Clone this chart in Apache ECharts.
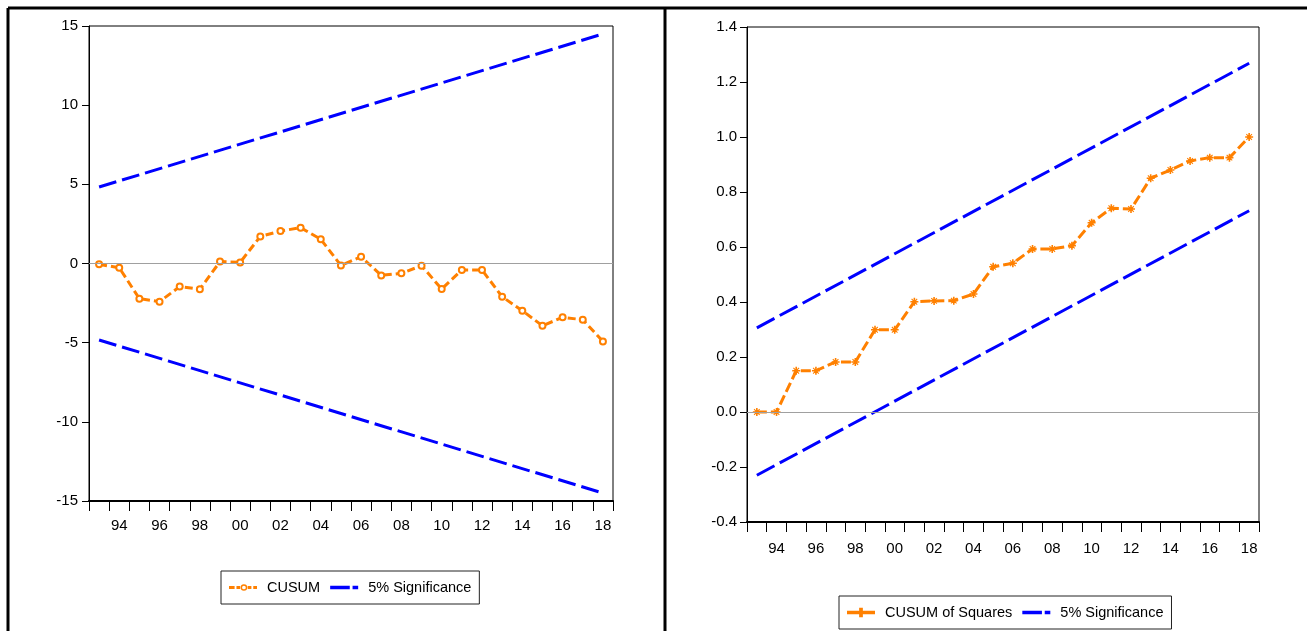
<!DOCTYPE html>
<html>
<head>
<meta charset="utf-8">
<script src="https://cdn.jsdelivr.net/npm/echarts@6/dist/echarts.min.js"></script>
<style>
html,body{margin:0;padding:0;background:#fff;}
#chart{width:1307px;height:631px;}
</style>
</head>
<body>
<div id="chart"></div>
<script>
// ---- data ----
const years = ['1993','1994','1995','1996','1997','1998','1999','2000','2001','2002','2003','2004','2005',
               '2006','2007','2008','2009','2010','2011','2012','2013','2014','2015','2016','2017','2018'];
const cusum = [-0.05,-0.27,-2.22,-2.41,-1.46,-1.63,0.12,0.07,1.71,2.05,2.26,1.53,-0.12,
               0.43,-0.75,-0.62,-0.14,-1.61,-0.41,-0.41,-2.10,-2.98,-3.93,-3.40,-3.55,-4.92];
const cusumUpperEnds = [4.83, 14.5];
const cusumLowerEnds = [-4.83, -14.5];
const cusumSq = [0,0,0.150,0.150,0.182,0.182,0.299,0.299,0.401,0.404,0.405,0.429,0.528,
                 0.541,0.593,0.593,0.605,0.688,0.741,0.738,0.850,0.880,0.913,0.925,0.925,1.0];
const sqUpperEnds = [0.306, 1.268];
const sqLowerEnds = [-0.230, 0.732];
const leftYTicks = {min: -15, max: 15, interval: 5};
const rightYTicks = {min: -0.4, max: 1.4, interval: 0.2};

// ---- styling ----
const FONT = '"Liberation Sans", Arial, sans-serif';
const ORANGE = '#FF8000';
const BLUE = '#0000FF';
const starPath = 'path://M4,0L6,0L6,4L10,4L10,6L6,6L6,10L4,10L4,6L0,6L0,4L4,4Z M1,2L2,1L5,4L8,1L9,2L6,5L9,8L8,9L5,6L2,9L1,8L4,5Z';
const iconCusum = 'path://M0,2H6V5H0Z M8,2H12V5H8Z M20,2H24V5H20Z M26,2H30V5H26Z M12.5,3.5A3.5,3.5 0 1,0 19.5,3.5A3.5,3.5 0 1,0 12.5,3.5Z M14,3.5A2,2 0 1,1 18,3.5A2,2 0 1,1 14,3.5Z';
const iconBand = 'path://M0,0H21V4H0Z M24,0H30V4H24Z';
const iconSq = 'path://M0,3H30V7H0Z M13,0H17V10H13Z';

const ends = (arr) => [[years[0], arr[0]], [years[years.length-1], arr[1]]];

function xAxisCfg(gridIndex, margin) {
  return {
    type: 'category', gridIndex, data: years, boundaryGap: true,
    axisLine: {show: true, onZero: false, lineStyle: {color: '#000', width: 2}},
    axisTick: {show: true, interval: 0, length: 10, inside: false, lineStyle: {color: '#000', width: 1}},
    axisLabel: {
      interval: (i, v) => parseInt(v) % 2 === 0,
      formatter: (v) => v.slice(2),
      color: '#000', fontFamily: FONT, fontSize: 15, margin
    },
    splitLine: {show: false}
  };
}
function yAxisCfg(gridIndex, ticks, margin, digits) {
  return {
    type: 'value', gridIndex, min: ticks.min, max: ticks.max, interval: ticks.interval,
    axisLine: {show: true, lineStyle: {color: '#000', width: 1}},
    axisTick: {show: true, length: 7, lineStyle: {color: '#000'}},
    axisLabel: {
      color: '#000', fontFamily: FONT, fontSize: 15, margin,
      formatter: (v) => digits ? v.toFixed(digits) : String(Math.round(v))
    },
    splitLine: {show: false}
  };
}
const zeroLine = {
  silent: true, symbol: 'none', label: {show: false},
  lineStyle: {color: '#a0a0a0', width: 1, type: 'solid'},
  data: [{yAxis: 0}]
};
function boundSeries(xi, data, dash) {
  return {
    name: '5% Significance', type: 'line', xAxisIndex: xi, yAxisIndex: xi,
    data, symbol: 'none', showSymbol: false,
    lineStyle: {color: BLUE, width: 3, type: dash},
    itemStyle: {color: BLUE}, z: 3
  };
}
function legendCfg(left, top, firstName, firstIcon) {
  return {
    left, top, orient: 'horizontal',
    data: [
      {name: firstName, icon: firstIcon, itemStyle: {color: ORANGE, borderWidth: 0}},
      {name: '5% Significance', icon: iconBand, itemStyle: {color: BLUE, borderWidth: 0}}
    ],
    padding: [9, 8], itemGap: 10, itemWidth: 28, itemHeight: 14,
    borderColor: '#222', borderWidth: 1, borderRadius: 0,
    textStyle: {fontFamily: FONT, fontSize: 14.5, color: '#000', padding: [0, 0, 0, 5]},
    selectedMode: false
  };
}

const chart = echarts.init(document.getElementById('chart'), null, {renderer: 'canvas'});
chart.setOption({
  animation: false,
  backgroundColor: '#fff',
  grid: [
    {left: 89, top: 26, width: 524, height: 475, show: true, borderColor: '#000', borderWidth: 1, backgroundColor: 'transparent'},
    {left: 747, top: 27, width: 512, height: 495, show: true, borderColor: '#000', borderWidth: 1, backgroundColor: 'transparent'}
  ],
  xAxis: [xAxisCfg(0, 17), xAxisCfg(1, 19)],
  yAxis: [yAxisCfg(0, leftYTicks, 11, 0), yAxisCfg(1, rightYTicks, 10, 1)],
  legend: [
    legendCfg(221, 571, 'CUSUM', iconCusum),
    legendCfg(839, 596, 'CUSUM of Squares', iconSq)
  ],
  series: [
    {
      name: 'CUSUM', type: 'line', xAxisIndex: 0, yAxisIndex: 0, data: cusum,
      symbol: 'emptyCircle', symbolSize: 6, showAllSymbol: true,
      lineStyle: {color: ORANGE, width: 3, type: [8, 4]},
      itemStyle: {color: ORANGE, borderWidth: 1.5},
      markLine: zeroLine, z: 4
    },
    boundSeries(0, ends(cusumUpperEnds), [18, 6]),
    boundSeries(0, ends(cusumLowerEnds), [18, 6]),
    {
      name: 'CUSUM of Squares', type: 'line', xAxisIndex: 1, yAxisIndex: 1, data: cusumSq,
      symbol: starPath, symbolSize: 8, showAllSymbol: true,
      lineStyle: {color: ORANGE, width: 3, type: [10, 4]},
      itemStyle: {color: ORANGE},
      markLine: zeroLine, z: 4
    },
    boundSeries(1, ends(sqUpperEnds), [20, 6]),
    boundSeries(1, ends(sqLowerEnds), [20, 6])
  ],
  graphic: [
    {type: 'line', shape: {x1: 8, y1: 8, x2: 1307, y2: 8}, style: {stroke: '#000', lineWidth: 3}, silent: true},
    {type: 'line', shape: {x1: 8, y1: 8, x2: 8, y2: 631}, style: {stroke: '#000', lineWidth: 3}, silent: true},
    {type: 'line', shape: {x1: 665, y1: 8, x2: 665, y2: 631}, style: {stroke: '#000', lineWidth: 3}, silent: true}
  ]
});
</script>
</body>
</html>
